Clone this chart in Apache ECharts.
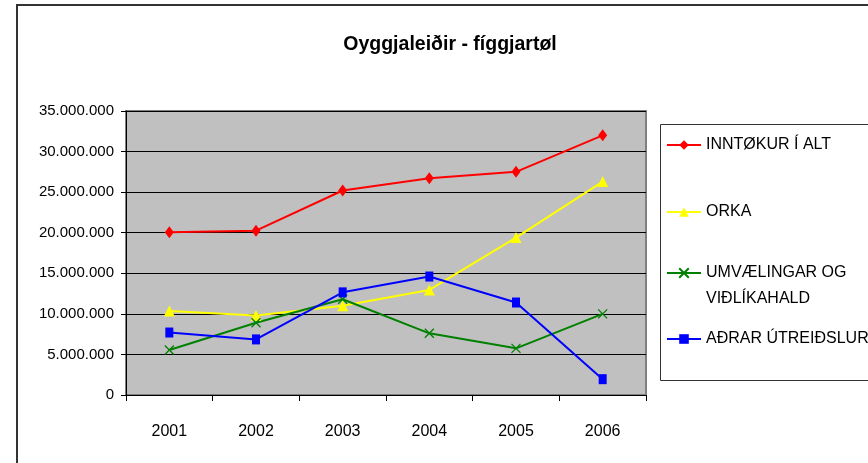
<!DOCTYPE html>
<html>
<head>
<meta charset="utf-8">
<script src="https://cdn.jsdelivr.net/npm/echarts@6/dist/echarts.min.js"></script>
<style>
  html, body { margin: 0; padding: 0; background: #fff; }
  #chart { width: 868px; height: 463px; }
</style>
</head>
<body>
<div id="chart"></div>
<script>
// ár
var years = ['2001', '2002', '2003', '2004', '2005', '2006'];
// raðir
var inntokur = [20050000, 20250000, 25200000, 26700000, 27500000, 32000000];
var orka = [10350000, 9800000, 11000000, 12950000, 19400000, 26300000];
var umvaelingar = [5550000, 8900000, 11800000, 7600000, 5750000, 10000000];
var adrar = [7700000, 6850000, 12650000, 14600000, 11400000, 1950000];
// ásur
var yTicks = [0, 5000000, 10000000, 15000000, 20000000, 25000000, 30000000, 35000000];

var font = '"Liberation Sans", Arial, sans-serif';

var chart = echarts.init(document.getElementById('chart'));

function fmt(v) {
    return String(v).replace(/\B(?=(\d{3})+(?!\d))/g, '.');
}

var xPath = 'path://M0,0L10,10M10,0L0,10';

function legendItem(name, top, lh, formatter) {
    var item = {
        data: [name],
        orient: 'vertical',
        left: 666,
        top: top,
        padding: 0,
        itemWidth: 34,
        itemHeight: 12,
        selectedMode: false,
        textStyle: { fontFamily: font, fontSize: 16, color: '#000', lineHeight: lh }
    };
    if (formatter) {
        item.formatter = formatter;
    }
    return item;
}

var options = {
    animation: false,
    backgroundColor: '#fff',
    title: {
        text: 'Oyggjaleiðir - fíggjartøl',
        left: 445,
        textAlign: 'center',
        top: 30,
        textStyle: { fontFamily: font, fontSize: 19.5, fontWeight: 'bold', color: '#000' }
    },
    graphic: [
        {
            type: 'rect',
            shape: { x: 17, y: 5, width: 1000, height: 1000 },
            style: { fill: 'none', stroke: '#333', lineWidth: 2 },
            silent: true
        },
        {
            type: 'rect',
            shape: { x: 660.5, y: 124.5, width: 400, height: 256 },
            style: { fill: 'none', stroke: '#333', lineWidth: 1 },
            silent: true
        }
    ],
    legend: [
        legendItem('INNTØKUR Í ALT', 136, 18),
        legendItem('ORKA', 203, 18),
        legendItem('UMVÆLINGAR OG\nVIÐLÍKAHALD', 234, 26, function (n) { return ' \n' + n; }),
        legendItem('AÐRAR ÚTREIÐSLUR', 330, 18)
    ],
    grid: {
        left: 126,
        top: 111,
        right: 222,
        bottom: 68,
        show: true,
        backgroundColor: '#C0C0C0',
        borderColor: '#808080',
        borderWidth: 2
    },
    xAxis: {
        type: 'category',
        data: years,
        boundaryGap: true,
        axisLine: { lineStyle: { color: '#000', width: 1 } },
        axisTick: { show: true, length: 6, lineStyle: { color: '#000' } },
        axisLabel: { fontFamily: font, fontSize: 16, color: '#000', margin: 29 },
        splitLine: { show: false }
    },
    yAxis: {
        type: 'value',
        min: yTicks[0],
        max: yTicks[yTicks.length - 1],
        interval: yTicks[1] - yTicks[0],
        axisLine: { show: true, lineStyle: { color: '#000', width: 1 } },
        axisTick: { show: true, length: 5, lineStyle: { color: '#000' } },
        axisLabel: { fontFamily: font, fontSize: 15, color: '#000', margin: 12, formatter: fmt },
        splitLine: { show: true, lineStyle: { color: '#000', width: 1 } }
    },
    series: [
        {
            name: 'INNTØKUR Í ALT',
            type: 'line',
            data: inntokur,
            symbol: 'diamond',
            symbolSize: [9, 12],
            color: '#FF0000',
            lineStyle: { color: '#FF0000', width: 2 },
            itemStyle: { color: '#FF0000' }
        },
        {
            name: 'ORKA',
            type: 'line',
            data: orka,
            symbol: 'triangle',
            symbolSize: [11, 11],
            color: '#FFFF00',
            lineStyle: { color: '#FFFF00', width: 2 },
            itemStyle: { color: '#FFFF00' }
        },
        {
            name: 'UMVÆLINGAR OG\nVIÐLÍKAHALD',
            type: 'line',
            data: umvaelingar,
            symbol: xPath,
            symbolSize: [9, 9],
            color: '#008000',
            lineStyle: { color: '#008000', width: 2 },
            itemStyle: { color: '#008000', borderColor: '#008000', borderWidth: 1.3 }
        },
        {
            name: 'AÐRAR ÚTREIÐSLUR',
            type: 'line',
            data: adrar,
            symbol: 'rect',
            symbolSize: [8, 10],
            color: '#0000FF',
            lineStyle: { color: '#0000FF', width: 2 },
            itemStyle: { color: '#0000FF' }
        }
    ]
};

chart.setOption(options);
</script>
</body>
</html>
